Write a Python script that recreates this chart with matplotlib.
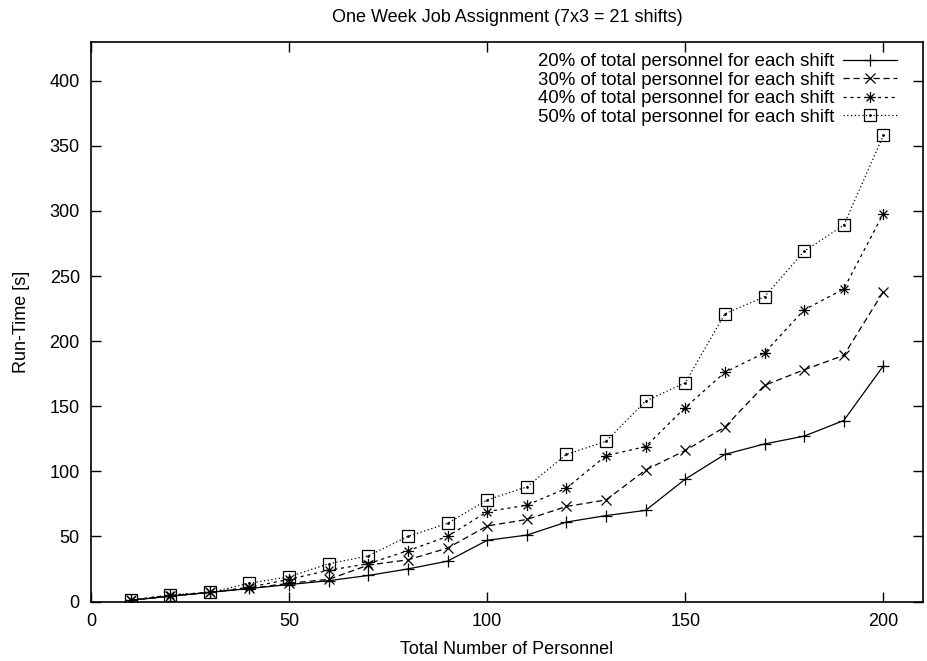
import numpy as np
import matplotlib.pyplot as plt
from matplotlib.path import Path
from matplotlib.legend_handler import HandlerTuple

plt.rcParams['font.family'] = ['Liberation Sans', 'DejaVu Sans']

personnel = [10, 20, 30, 40, 50, 60, 70, 80, 90, 100,
             110, 120, 130, 140, 150, 160, 170, 180, 190, 200]
run_20 = [1, 4, 7, 10, 13, 16, 20, 25, 31, 47,
          51, 61, 66, 70, 94, 113, 121, 127, 139, 181]
run_30 = [1, 4, 7, 10, 14, 17, 28, 32, 41, 58,
          63, 73, 78, 101, 116, 134, 166, 178, 189, 238]
run_40 = [1, 5, 7, 11, 17, 24, 29, 39, 50, 69,
          74, 87, 112, 119, 149, 176, 191, 224, 240, 298]
run_50 = [1, 5, 7, 14, 19, 29, 35, 50, 60, 78,
          88, 113, 123, 154, 168, 221, 234, 269, 289, 358]
labels = ["20% of total personnel for each shift",
          "30% of total personnel for each shift",
          "40% of total personnel for each shift",
          "50% of total personnel for each shift"]

# gnuplot style asterisk: + and x on top of each other
s = 0.7071
star = Path([(-1, 0), (1, 0), (0, -1), (0, 1), (-s, -s), (s, s), (-s, s), (s, -s)],
            [Path.MOVETO, Path.LINETO] * 4)

fig = plt.figure(figsize=(9.28, 6.61), dpi=100)
ax = fig.add_axes([0.098, 0.090, 0.8966, 0.847])

lw = 0.9
fs = 13
h1, = ax.plot(personnel, run_20, color='black', lw=lw, ls='-',
              marker='+', ms=9, mew=lw)
h2, = ax.plot(personnel, run_30, color='black', lw=lw, ls=(0, (5, 3)),
              marker='x', ms=7, mew=lw)
h3, = ax.plot(personnel, run_40, color='black', lw=lw, ls=(0, (2.5, 3)),
              marker=star, ms=8, mew=lw, mfc='none')
h4, = ax.plot(personnel, run_50, color='black', lw=lw, ls=(0, (1, 2)),
              marker='s', ms=8, mew=lw, mfc='none')
h4d, = ax.plot(personnel, run_50, color='black', lw=0, marker='.', ms=2)

ax.set_xlim(0, 210)
ax.set_ylim(0, 430)
ax.set_xticks([0, 50, 100, 150, 200])
ax.set_yticks(np.arange(0, 401, 50))
ax.tick_params(direction='in', top=True, right=True, length=7, width=1,
               labelsize=fs, pad=8)
for sp in ax.spines.values():
    sp.set_linewidth(1.2)

ax.set_xlabel("Total Number of Personnel", fontsize=fs, labelpad=8)
ax.set_ylabel("Run-Time [s]", fontsize=fs, labelpad=14)
ax.set_title("One Week Job Assignment (7x3 = 21 shifts)", fontsize=fs, pad=14)

ax.legend([h1, h2, h3, (h4, h4d)], labels, loc='upper right',
          bbox_to_anchor=(897 / 928, 1 - 53 / 661), bbox_transform=fig.transFigure,
          frameon=False, markerfirst=False, fontsize=13.4, handlelength=2.9,
          handletextpad=0.45, labelspacing=0.08, borderaxespad=0, borderpad=0,
          handler_map={tuple: HandlerTuple(ndivide=1)})

fig.savefig("out.png", dpi=100)
